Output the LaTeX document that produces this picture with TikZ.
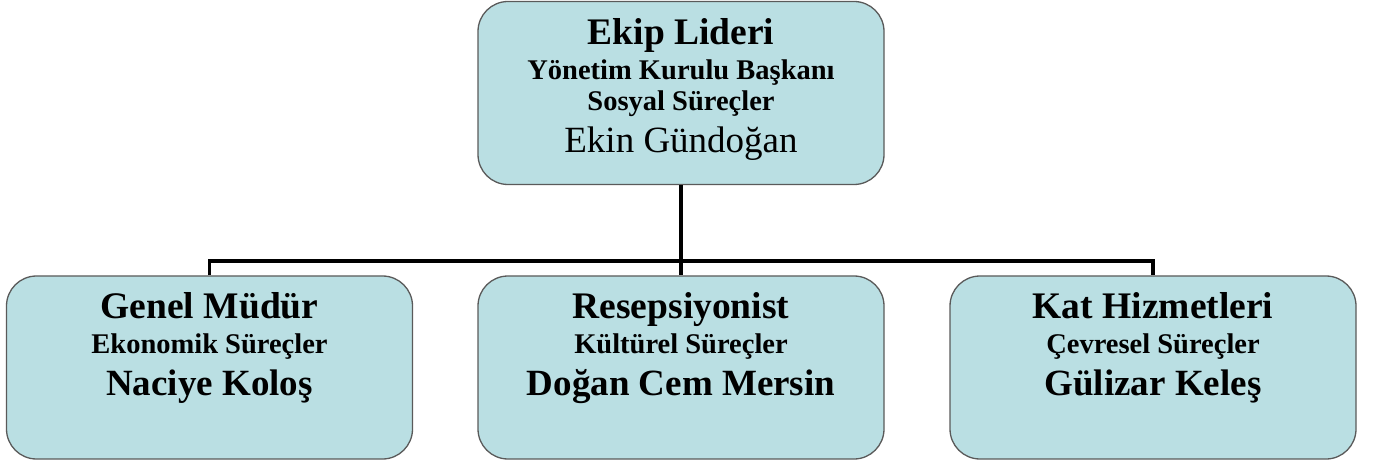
\documentclass[tikz,border=0pt]{standalone}
\usepackage{fontspec}
\setmainfont{Liberation Serif}
\definecolor{boxfill}{HTML}{BADFE3}
\definecolor{boxline}{HTML}{5A5A5A}
\tikzset{
  orgbox/.style={draw=boxline, line width=1.3pt, fill=boxfill, rounded corners=30pt,
    minimum width=406pt, minimum height=183pt, inner sep=0pt},
  conn/.style={draw=black, line width=3.2pt},
  tbig/.style={anchor=base, inner sep=0pt, font=\fontsize{37.5}{44}\selectfont\bfseries},
  tsub/.style={anchor=base, inner sep=0pt, font=\fontsize{28.5}{34}\selectfont\bfseries},
  tname/.style={anchor=base, inner sep=0pt, font=\fontsize{37}{44}\selectfont},
  tnameb/.style={anchor=base, inner sep=0pt, font=\fontsize{37}{44}\selectfont\bfseries},
}
\begin{document}
\begin{tikzpicture}[x=1pt,y=-1pt]
\useasboundingbox (0,0) rectangle (1376,462);
% boxes
\node[orgbox] (top) at (681,93) {};
\node[orgbox] (left) at (209.5,367.5) {};
\node[orgbox] (mid) at (681,367.5) {};
\node[orgbox] (right) at (1153,367.5) {};
% connectors
\coordinate (bus) at (681,261);
\draw[conn] (top.south) -- (bus);
\draw[conn] (left.north) |- (bus) -| (right.north);
\draw[conn] (bus) -- (mid.north);
% top text
\node[tbig] (t1) at (681,45) {Ekip Lideri};
\node[tsub] (t2) at (681,80) {Yönetim Kurulu Başkanı};
\node[tsub] (t3) at (681,111) {Sosyal Süreçler};
\node[tname] (t4) at (681,153) {Ekin Gündoğan};
% left text
\node[tbig] (l1) at (209.5,319) {Genel Müdür};
\node[tsub] (l2) at (209.5,353) {Ekonomik Süreçler};
\node[tnameb] (l3) at (209.5,395) {Naciye Koloş};
% middle text
\node[tbig] (m1) at (681,319) {Resepsiyonist};
\node[tsub] (m2) at (681,353) {Kültürel Süreçler};
\node[tnameb] (m3) at (681,395) {Doğan Cem Mersin};
% right text
\node[tbig] (r1) at (1153,319) {Kat Hizmetleri};
\node[tsub] (r2) at (1153,353) {Çevresel Süreçler};
\node[tnameb] (r3) at (1153,395) {Gülizar Keleş};
\end{tikzpicture}
\end{document}
